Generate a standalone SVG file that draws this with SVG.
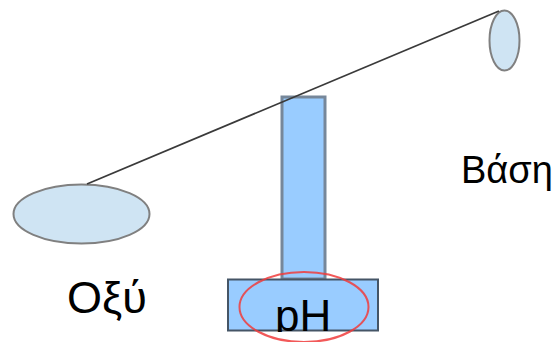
<svg xmlns="http://www.w3.org/2000/svg" width="555" height="342" viewBox="0 0 555 342">
<style>
.pan{fill:#cfe4f3;stroke:#808080;stroke-width:2}
.blue{fill:#99ccff}
.lbl{font-family:"Liberation Sans",Arial,sans-serif;fill:#000}
</style>
<defs>
<clipPath id="baseclip"><rect x="220" y="270" width="170" height="62"/></clipPath>
</defs>
<rect width="555" height="342" fill="#fff"/>
<g id="acid-pan">
<ellipse class="pan" cx="81.5" cy="214" rx="68" ry="29.5"/>
</g>
<g id="base-pan">
<ellipse class="pan" cx="504.5" cy="40.5" rx="15" ry="30"/>
</g>
<g id="pillar">
<rect class="blue" x="282" y="97" width="43" height="182" stroke="#76879a" stroke-width="3"/>
</g>
<g id="connectors">
<line x1="87" y1="184" x2="499" y2="11" stroke="#3a3a3a" stroke-width="1.8"/>
</g>
<g id="ph-base">
<rect class="blue" x="228" y="279.5" width="150" height="51" stroke="#455566" stroke-width="2"/>
<text class="lbl" x="275" y="331" font-size="44" clip-path="url(#baseclip)">pH</text>
<ellipse cx="304" cy="307" rx="64.5" ry="35" fill="none" stroke="#f03c3c" stroke-opacity="0.85" stroke-width="2"/>
</g>
<g id="label-acid">
<text class="lbl" x="67" y="313" font-size="45">Οξύ</text>
</g>
<g id="label-base">
<text class="lbl" x="461" y="183" font-size="38">Βάση</text>
</g>
</svg>
